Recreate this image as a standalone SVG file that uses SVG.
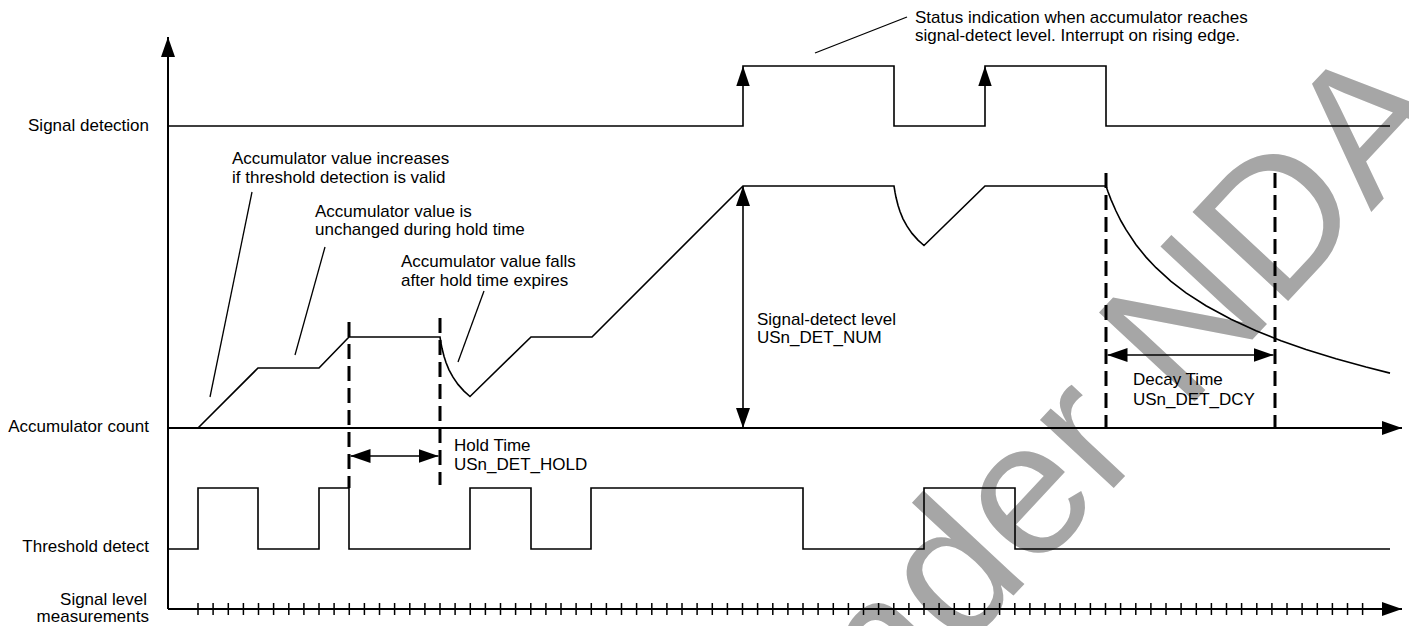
<svg xmlns="http://www.w3.org/2000/svg" width="1409" height="626" viewBox="0 0 1409 626">
<style>
text{font-family:"Liberation Sans",Arial,sans-serif;font-size:17px;fill:#000}
.lbl{text-anchor:end}
.wm{font-size:190px;fill:#a6a6a6}
.axis{fill:none;stroke:#000;stroke-width:2}
.wave{fill:none;stroke:#000;stroke-width:1.6;stroke-linejoin:miter}
.lead{fill:none;stroke:#000;stroke-width:1.3}
.dash{fill:none;stroke:#000;stroke-width:3;stroke-dasharray:15 7}
.dim{fill:none;stroke:#000;stroke-width:1.6}
.tick{fill:none;stroke:#000;stroke-width:1.5}
.head{fill:#000}
</style>
<defs>
<marker id="arr" viewBox="0 0 20 14" refX="20" refY="7" markerWidth="20" markerHeight="14" markerUnits="userSpaceOnUse" orient="auto-start-reverse">
<path d="M0,0 L20,7 L0,14 Z" fill="#000"/>
</marker>
</defs>
<g id="watermark">
<text class="wm" transform="translate(795,830) rotate(-47)">Under NDA</text>
</g>
<g id="axes">
<path class="axis" d="M168,609 V37" marker-end="url(#arr)"/>
<path class="axis" d="M168,428 H1402" marker-end="url(#arr)"/>
<path class="axis" d="M168,609 H1402" marker-end="url(#arr)"/>
<path class="tick" d="M198,603V615M213.1,603V615M228.3,603V615M243.4,603V615M258.5,603V615M273.6,603V615M288.8,603V615M303.9,603V615M319,603V615M334.1,603V615M349.3,603V615M364.4,603V615M379.5,603V615M394.6,603V615M409.8,603V615M424.9,603V615M440,603V615M455.1,603V615M470.3,603V615M485.4,603V615M500.5,603V615M515.6,603V615M530.8,603V615M545.9,603V615M561,603V615M576.1,603V615M591.3,603V615M606.4,603V615M621.5,603V615M636.6,603V615M651.8,603V615M666.9,603V615M682,603V615M697.1,603V615M712.3,603V615M727.4,603V615M742.5,603V615M757.6,603V615M772.8,603V615M787.9,603V615M803,603V615M818.1,603V615M833.3,603V615M848.4,603V615M863.5,603V615M878.6,603V615M893.8,603V615M908.9,603V615M924,603V615M939.1,603V615M954.3,603V615M969.4,603V615M984.5,603V615M999.6,603V615M1014.8,603V615M1029.9,603V615M1045,603V615M1060.1,603V615M1075.3,603V615M1090.4,603V615M1105.5,603V615M1120.6,603V615M1135.8,603V615M1150.9,603V615M1166,603V615M1181.1,603V615M1196.3,603V615M1211.4,603V615M1226.5,603V615M1241.6,603V615M1256.8,603V615M1271.9,603V615M1287,603V615M1302.1,603V615M1317.3,603V615M1332.4,603V615M1347.5,603V615M1362.6,603V615"/>
</g>
<g id="labels">
<text class="lbl" x="149" y="131">Signal detection</text>
<text class="lbl" x="149" y="432">Accumulator count</text>
<text class="lbl" x="149" y="552">Threshold detect</text>
<text class="lbl" x="147" y="605">Signal level</text>
<text class="lbl" x="149" y="622">measurements</text>
</g>
<g id="signal-detection">
<path class="wave" d="M168,126 H743 V66 H894 V126 H985 V66 H1106 V126 H1390"/>
<polygon class="head" points="743,66 736.3,86 749.7,86"/>
<polygon class="head" points="985,66 978.3,86 991.7,86"/>
</g>
<g id="accumulator">
<path class="wave" d="M198,428 L258,368 H319 L349,337 H440 L441,343.2 L442,348.3 L444,356.3 L446,362.5 L449,369.8 L453,377.2 L458,384.4 L464,391.1 L470,396.5 L531,337 H592 L743,186 H894 L895,192.2 L896,197.3 L898,205.3 L900,211.5 L903,218.8 L907,226.2 L912,233.4 L918,240.1 L924,245.5 L985,186 H1106 L1108,191.7 L1111,199.6 L1116,211 L1121,221 L1126,229.7 L1136,244.7 L1146,257.1 L1156,267.7 L1171,281.3 L1186,292.8 L1206,305.7 L1231,319.3 L1256,330.8 L1281,340.7 L1306,349.5 L1336,358.8 L1366,367.1 L1390,373.1"/>
</g>
<g id="threshold-detect">
<path class="wave" d="M168,549 H198 V488 H258 V549 H319 V488 H349 V549 H470 V488 H531 V549 H591 V488 H803 V549 H924 V488 H1015 V549 H1390"/>
</g>
<g id="hold-time">
<path class="dash" d="M349,322 V488"/>
<path class="dash" d="M440,318 V485"/>
<path class="dim" d="M350.5,456 H438.5" marker-start="url(#arr)" marker-end="url(#arr)"/>
<text x="454" y="451">Hold Time</text>
<text x="454" y="470">USn_DET_HOLD</text>
</g>
<g id="signal-detect-level">
<path class="dim" d="M743,186 V428" marker-start="url(#arr)" marker-end="url(#arr)"/>
<text x="757" y="325">Signal-detect level</text>
<text x="757" y="343">USn_DET_NUM</text>
</g>
<g id="decay-time">
<path class="dash" d="M1106,173 V428"/>
<path class="dash" d="M1275,173 V428"/>
<path class="dim" d="M1107.5,355 H1273.5" marker-start="url(#arr)" marker-end="url(#arr)"/>
<text x="1133" y="385">Decay Time</text>
<text x="1133" y="405">USn_DET_DCY</text>
</g>
<g id="connectors">
<path class="lead" d="M252,192 L210,397"/>
<path class="lead" d="M325,247 L295,355"/>
<path class="lead" d="M484,291 L458,362"/>
<path class="lead" d="M815,53 L907,17"/>
</g>
<g id="notes">
<text x="232" y="164">Accumulator value increases</text>
<text x="232" y="183">if threshold detection is valid</text>
<text x="315" y="217">Accumulator value is</text>
<text x="315" y="235">unchanged during hold time</text>
<text x="401" y="267">Accumulator value falls</text>
<text x="401" y="286">after hold time expires</text>
<text x="915" y="23">Status indication when accumulator reaches</text>
<text x="915" y="41">signal-detect level. Interrupt on rising edge.</text>
</g>
</svg>
